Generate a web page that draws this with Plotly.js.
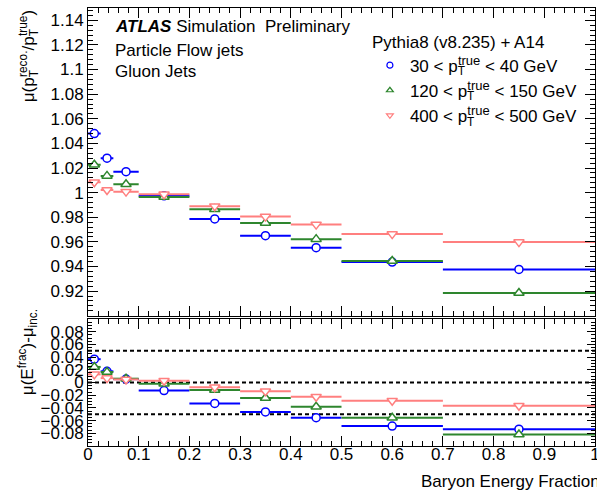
<!DOCTYPE html>
<html>
<head>
<meta charset="utf-8">
<script src="https://cdn.plot.ly/plotly-3.0.1.min.js"></script>
<style>html,body{margin:0;padding:0;background:#fff;overflow:hidden;}#chart{width:597px;height:491px;}</style>
</head>
<body>
<div id="chart"></div>
<script>
// Bin edges of the baryon energy fraction
const binEdges = [0, 0.025, 0.05, 0.1, 0.2, 0.3, 0.4, 0.5, 0.7, 1.0];

// Top panel: mu(pT reco / pT true)
const responseLow  = [1.048, 1.028, 1.017, 0.9974, 0.9786, 0.965, 0.9553, 0.9436, 0.9376];   // 30-40 GeV
const responseMid  = [1.0227, 1.0136, 1.0068, 0.9964, 0.9865, 0.9754, 0.9622, 0.9444, 0.9184]; // 120-150 GeV
const responseHigh = [1.0085, 1.0021, 1.0008, 0.9986, 0.989, 0.9805, 0.974, 0.9663, 0.9598];   // 400-500 GeV

// Bottom panel: mu(E frac) - mu inclusive
const diffLow  = [0.0367, 0.0176, 0.0053, -0.0128, -0.033, -0.0463, -0.0554, -0.0687, -0.0735];
const diffMid  = [0.0245, 0.0165, 0.006, -0.002, -0.0117, -0.0245, -0.0383, -0.0554, -0.082];
const diffHigh = [0.0128, 0.0069, 0.0048, 0.0027, -0.0075, -0.0139, -0.0224, -0.0288, -0.0367];

const ptLabel = "p<sub><span style='letter-spacing:-7px'>T</span></sub><sup><span style='font-size:13px'>true</span></sup>";
const seriesNames = [
  "30 &lt; " + ptLabel + " &lt; 40 GeV",
  "120 &lt; " + ptLabel + " &lt; 150 GeV",
  "400 &lt; " + ptLabel + " &lt; 500 GeV"
];
const seriesColors = ["#0000ff", "#2e862e", "#ff7f7f"];
const seriesSymbols = ["circle", "triangle-up", "triangle-down"];

const topTickVals = [0.92, 0.94, 0.96, 0.98, 1.0, 1.02, 1.04, 1.06, 1.08, 1.1, 1.12, 1.14];
const topTickText = ["0.92", "0.94", "0.96", "0.98", "1", "1.02", "1.04", "1.06", "1.08", "1.1", "1.12", "1.14"];
const botTickVals = [-0.08, -0.06, -0.04, -0.02, 0, 0.02, 0.04, 0.06, 0.08];
const botTickText = ["\u22120.08", "\u22120.06", "\u22120.04", "\u22120.02", "0", "0.02", "0.04", "0.06", "0.08"];
const xTickVals = [0, 0.1, 0.2, 0.3, 0.4, 0.5, 0.6, 0.7, 0.8, 0.9, 1];
const xTickText = ["0", "0.1", "0.2", "0.3", "0.4", "0.5", "0.6", "0.7", "0.8", "0.9", "1"];
const dashedLevels = [0.05, 0, -0.05];

const centers = [], halfWidths = [];
for (let i = 0; i < binEdges.length - 1; i++) {
  centers.push((binEdges[i] + binEdges[i + 1]) / 2);
  halfWidths.push((binEdges[i + 1] - binEdges[i]) / 2);
}

const topSeries = [responseLow, responseMid, responseHigh];
const botSeries = [diffLow, diffMid, diffHigh];
const FONT = "Liberation Sans, Arial, Helvetica, sans-serif";

const traces = [];
for (let s = 0; s < 3; s++) {
  const mk = {symbol: seriesSymbols[s], size: s === 0 ? 8 : 9, color: "white",
              line: {color: seriesColors[s], width: 1.5}};
  const ex = {type: "data", array: halfWidths, symmetric: true, thickness: 2, width: 0, color: seriesColors[s]};
  traces.push({x: centers, y: topSeries[s], xaxis: "x", yaxis: "y", mode: "markers",
               marker: mk, error_x: ex, showlegend: false, hoverinfo: "x+y"});
  traces.push({x: centers, y: botSeries[s], xaxis: "x2", yaxis: "y2", mode: "markers",
               marker: mk, error_x: ex, showlegend: false, hoverinfo: "x+y"});
}
// legend entries
for (let s = 0; s < 3; s++) {
  traces.push({x: [null], y: [null], xaxis: "x", yaxis: "y", mode: "markers", name: seriesNames[s],
               legendgroup: "g" + s,
               marker: {symbol: seriesSymbols[s], size: 6, color: "white", line: {color: seriesColors[s], width: 1.2}},
               showlegend: true});
}

const commonAxis = {showline: true, linecolor: "black", linewidth: 1, mirror: "allticks",
  ticks: "inside", ticklen: 10, tickwidth: 1, tickcolor: "black", ticklabeloverflow: "allow",
  showgrid: false, zeroline: false, tickfont: {family: FONT, size: 17, color: "black"}};

const layout = {
  width: 597, height: 491,
  margin: {l: 88, r: 2, t: 8, b: 45},
  paper_bgcolor: "white", plot_bgcolor: "white",
  font: {family: FONT, size: 17, color: "black"},
  xaxis: Object.assign({}, commonAxis, {domain: [0, 1], anchor: "y", range: [0, 1],
    tickmode: "array", tickvals: xTickVals, showticklabels: false,
    minor: {tickmode: "linear", tick0: 0, dtick: 0.02, ticklen: 5, ticks: "inside", tickcolor: "black", showgrid: false}}),
  yaxis: Object.assign({}, commonAxis, {domain: [0.2975, 1], anchor: "x", range: [0.9, 1.15],
    tickmode: "array", tickvals: topTickVals, ticktext: topTickText,
    minor: {tickmode: "linear", tick0: 0.9, dtick: 0.004, ticklen: 5, ticks: "inside", tickcolor: "black", showgrid: false}}),
  xaxis2: Object.assign({}, commonAxis, {domain: [0, 1], anchor: "y2", range: [0, 1],
    tickmode: "array", tickvals: xTickVals, ticktext: xTickText, ticklabelstandoff: -7,
    minor: {tickmode: "linear", tick0: 0, dtick: 0.02, ticklen: 5, ticks: "inside", tickcolor: "black", showgrid: false}}),
  yaxis2: Object.assign({}, commonAxis, {domain: [0, 0.29], anchor: "x2", range: [-0.1, 0.1],
    tickmode: "array", tickvals: botTickVals, ticktext: botTickText, ticklen: 8,
    minor: {tickmode: "linear", tick0: -0.1, dtick: 0.005, ticklen: 4, ticks: "inside", tickcolor: "black", showgrid: false}}),
  showlegend: true,
  legend: {x: 0.556, xanchor: "left", y: 0.96, yanchor: "top", bgcolor: "rgba(0,0,0,0)",
    font: {family: FONT, size: 17, color: "black"}, itemwidth: 30, traceorder: "grouped", tracegroupgap: 0,
    title: {text: "Pythia8 (v8.235) + A14", font: {family: FONT, size: 17, color: "black"}}},
  shapes: dashedLevels.map(v => ({type: "line", xref: "x2", yref: "y2", x0: 0, x1: 1, y0: v, y1: v,
    line: {color: "black", width: 2, dash: "4px,3px"}, layer: "below"})),
  annotations: [
    {text: "<b><i>ATLAS</i></b> Simulation  Preliminary", xref: "paper", yref: "paper",
     x: 0.049, y: 0.957, xanchor: "left", yanchor: "middle", showarrow: false, font: {family: FONT, size: 17}},
    {text: "Particle Flow jets", xref: "paper", yref: "paper",
     x: 0.049, y: 0.904, xanchor: "left", yanchor: "middle", showarrow: false, font: {family: FONT, size: 17}},
    {text: "Gluon Jets", xref: "paper", yref: "paper",
     x: 0.049, y: 0.854, xanchor: "left", yanchor: "middle", showarrow: false, font: {family: FONT, size: 17}},
    {text: "μ(p<sub><span style='letter-spacing:-7px'>T</span></sub><sup>reco.</sup>/p<sub><span style='letter-spacing:-7px'>T</span></sub><sup>true</sup>)",
     xref: "paper", yref: "paper", x: -0.118, y: 1.0, xanchor: "center", yanchor: "top",
     textangle: -90, showarrow: false, font: {family: FONT, size: 17}},
    {text: "μ(E<sup>frac</sup>)-μ<sub>inc.</sub>",
     xref: "paper", yref: "paper", x: -0.118, y: 0.3174, xanchor: "center", yanchor: "top",
     textangle: -90, showarrow: false, font: {family: FONT, size: 17}},
    {text: "Baryon Energy Fraction", xref: "paper", yref: "paper", x: 1.0138, y: -0.08,
     xanchor: "right", yanchor: "middle", showarrow: false, font: {family: FONT, size: 17}}
  ]
};

Plotly.newPlot("chart", traces, layout, {staticPlot: true, displayModeBar: false});
</script>
</body>
</html>
